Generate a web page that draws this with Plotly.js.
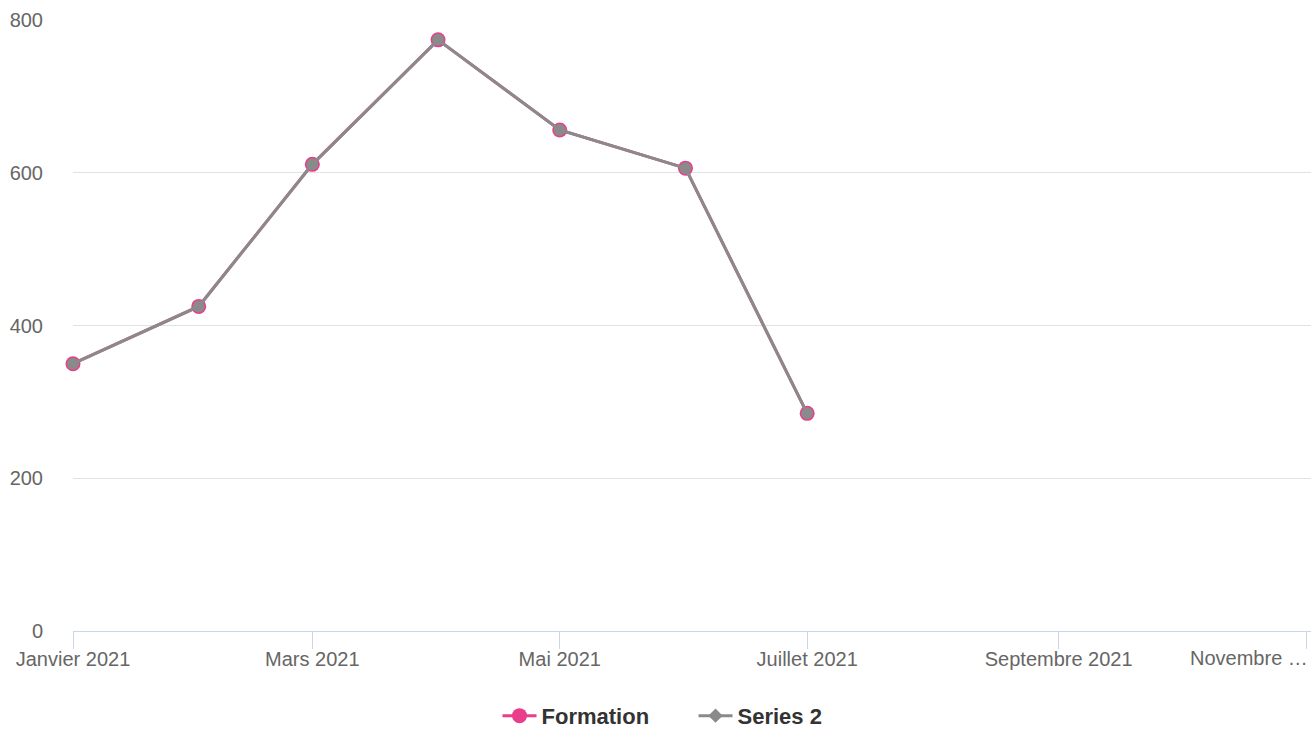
<!DOCTYPE html>
<html>
<head>
<meta charset="utf-8">
<script src="https://cdn.plot.ly/plotly-3.0.1.min.js"></script>
<style>
  html, body { margin: 0; padding: 0; background: #ffffff; }
  #chart { width: 1311px; height: 729px; }
</style>
</head>
<body>
<div id="chart"></div>
<script>
// monthly values, Jan -> Jul 2021
const months = ['2021-01-01', '2021-02-01', '2021-03-01', '2021-04-01', '2021-05-01', '2021-06-01', '2021-07-01'];
const formationValues = [350, 425, 611, 774, 656, 606, 285];
const series2Values = [350, 425, 611, 774, 656, 606, 285];

// x axis ticks (every two months)
const tickDates = ['2021-01-01', '2021-03-01', '2021-05-01', '2021-07-01', '2021-09-01', '2021-11-01'];
const tickLabels = ['Janvier 2021', 'Mars 2021', 'Mai 2021', 'Juillet 2021', 'Septembre 2021', ''];
const lastTickLabel = 'Novembre …';

const pink = '#e83e8c';
const grey = '#8a8a8a';
const fontFamily = '"Liberation Sans", Arial, Helvetica, sans-serif';

const plotData = [
  {
    x: months,
    y: formationValues,
    type: 'scatter',
    mode: 'lines+markers',
    name: 'Formation',
    cliponaxis: false,
    line: { color: pink, width: 3 },
    marker: { color: pink, size: 15, symbol: 'circle' },
  },
  {
    x: months,
    y: series2Values,
    type: 'scatter',
    mode: 'lines+markers',
    name: 'Series 2',
    showlegend: false,
    cliponaxis: false,
    line: { color: grey, width: 3 },
    marker: { color: grey, size: 12, symbol: 'circle' },
  },
  // legend entry for Series 2 (diamond symbol like the original legend)
  {
    x: [null],
    y: [null],
    type: 'scatter',
    mode: 'lines+markers',
    name: 'Series 2',
    hoverinfo: 'skip',
    line: { color: grey, width: 3 },
    marker: { color: grey, size: 11, symbol: 'diamond' },
  },
];

const layout = {
  width: 1311,
  height: 729,
  margin: { l: 73, r: 0, t: 20, b: 98 },
  plot_bgcolor: '#ffffff',
  paper_bgcolor: '#ffffff',
  font: { family: fontFamily, color: '#666666', size: 20 },
  showlegend: true,
  legend: {
    orientation: 'h',
    xref: 'container',
    yref: 'container',
    x: 0.529,
    xanchor: 'center',
    y: 0.018,
    yanchor: 'middle',
    itemwidth: 34,
    entrywidth: 147,
    font: { family: fontFamily, size: 22, color: '#333333', weight: 'bold' },
    itemclick: false,
  },
  xaxis: {
    type: 'date',
    range: ['2021-01-01', '2021-11-02 05:00'],
    tickmode: 'array',
    tickvals: tickDates,
    ticktext: tickLabels,
    ticks: 'outside',
    ticklen: 17,
    tickcolor: '#ccd6eb',
    tickwidth: 1,
    ticklabelstandoff: -7,
    showline: true,
    linecolor: '#ccd6eb',
    linewidth: 1,
    showgrid: false,
    zeroline: false,
    automargin: false,
    tickfont: { size: 20, color: '#666666' },
  },
  yaxis: {
    range: [0, 800],
    dtick: 200,
    showgrid: true,
    gridcolor: '#e2e2e2',
    gridwidth: 1,
    zeroline: false,
    showline: false,
    ticks: '',
    ticklabelstandoff: 29,
    automargin: false,
    tickfont: { size: 20, color: '#666666' },
  },
  annotations: [
    {
      x: tickDates[tickDates.length - 1],
      xref: 'x',
      y: -0.044,
      yref: 'paper',
      text: lastTickLabel,
      showarrow: false,
      xanchor: 'right',
      yanchor: 'middle',
      xshift: 4,
      font: { size: 20, color: '#666666', family: fontFamily },
    },
  ],
  hovermode: 'closest',
};

Plotly.newPlot('chart', plotData, layout, { displayModeBar: false, responsive: false });
</script>
</body>
</html>
